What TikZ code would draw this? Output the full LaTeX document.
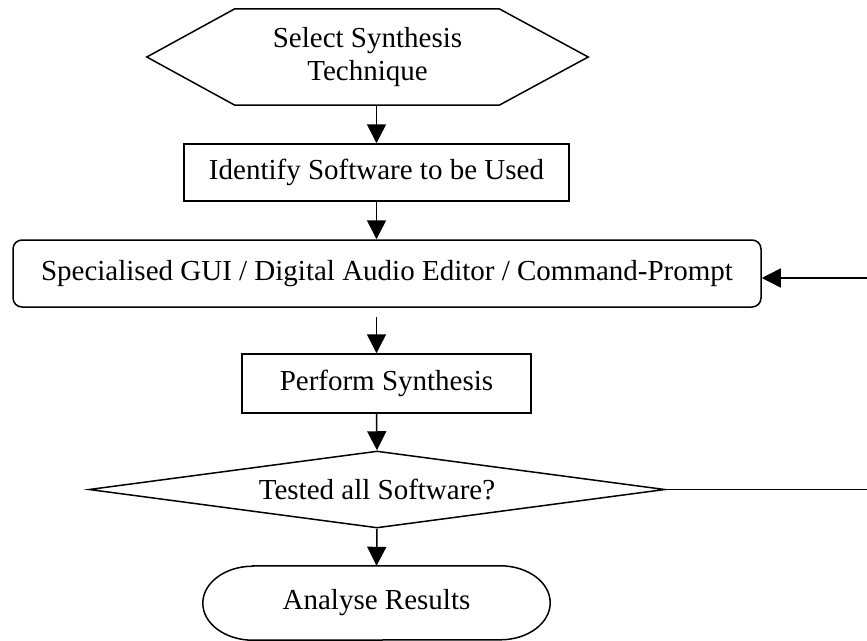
\documentclass[tikz,border=0pt]{standalone}
\usepackage{fontspec}
\setmainfont{Liberation Serif}
\usetikzlibrary{shapes.geometric,arrows.meta}
\begin{document}
\begin{tikzpicture}[x=1pt,y=-1pt,
  every node/.style={font=\fontsize{29}{33}\selectfont, inner sep=0pt},
  ln/.style={line width=1.5pt},
  arr/.style={ln,-{Triangle[length=19pt,width=19pt]}},
  boxnode/.style={draw, ln, rectangle},
]
\useasboundingbox (0,0) rectangle (867,640);
% hexagon (start)
\node[minimum width=441pt, minimum height=96pt, align=center] (sel) at (367.5,57) {Select Synthesis\\Technique};
\draw[ln] (sel.west) -- ([xshift=88pt]sel.north west) -- ([xshift=-89pt]sel.north east) -- (sel.east)
  -- ([xshift=-89pt]sel.south east) -- ([xshift=88pt]sel.south west) -- cycle;
% process boxes
\node[boxnode, minimum width=385pt, minimum height=57pt] (idf) at (376.5,172.5) {Identify Software to be Used};
\node[boxnode, rounded corners=9pt, minimum width=748pt, minimum height=67pt] (gui) at (387,273.5) {Specialised GUI / Digital Audio Editor / Command-Prompt};
\node[boxnode, minimum width=289pt, minimum height=59pt] (per) at (386.5,383.5) {Perform Synthesis};
% decision
\node[draw, ln, diamond, aspect=7.5, minimum width=576pt, minimum height=77pt] (dia) at (377,489.5) {Tested all Software?};
% terminal
\node[minimum width=347pt, minimum height=74pt] (ter) at (376.5,603) {Analyse Results};
\draw[ln] ([xshift=50pt]ter.north west) -- ([xshift=-50pt]ter.north east)
  arc[start angle=90, end angle=-90, x radius=50pt, y radius=37pt]
  -- ([xshift=50pt]ter.south west)
  arc[start angle=270, end angle=90, x radius=50pt, y radius=37pt] -- cycle;
% connectors
\draw[arr] (sel.south -| idf.north) -- (idf.north);
\draw[arr] (idf.south) -- (idf.south |- gui.north);
\draw[arr] ([yshift=-9pt]idf.south |- gui.south) -- (idf.south |- per.north);
\draw[arr] (idf.south |- per.south) -- (dia.north);
\draw[arr] (dia.south) -- (ter.north);
\coordinate (r1) at (867,278);
\coordinate (r2) at (867,489.5);
\draw[arr] (r1) -- (r1 -| gui.east);
\draw[ln] (dia.east) -- (r2);
\end{tikzpicture}
\end{document}
